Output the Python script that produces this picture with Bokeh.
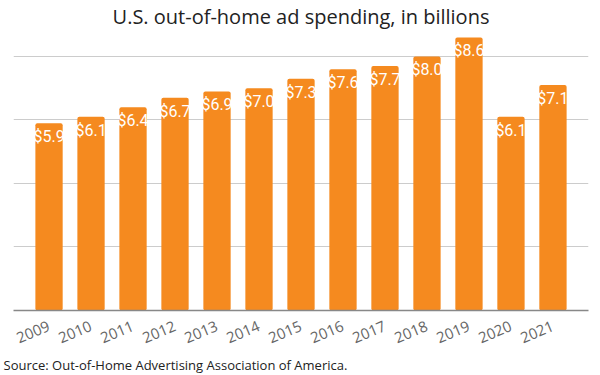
from bokeh.plotting import figure
from bokeh.models import ColumnDataSource, FactorRange, Range1d, FixedTicker, Title
from bokeh.core.properties import value
from bokeh.embed import file_html
from bokeh.resources import INLINE

years = ["2009", "2010", "2011", "2012", "2013", "2014", "2015",
         "2016", "2017", "2018", "2019", "2020", "2021"]
spending = [5.9, 6.1, 6.4, 6.7, 6.9, 7.0, 7.3, 7.6, 7.7, 8.0, 8.6, 6.1, 7.1]
labels = ["$%.1f" % v for v in spending]
grid_ticks = [2, 4, 6, 8]

src = ColumnDataSource(dict(year=years, val=spending, lab=labels))

p = figure(width=600, height=375, output_backend="svg", toolbar_location=None,
           x_range=FactorRange(*years, range_padding=0.346, range_padding_units="absolute"),
           y_range=Range1d(0, 8.85),
           min_border_left=13, min_border_right=12, min_border_top=0, min_border_bottom=60)

p.title.text = "U.S. out-of-home ad spending, in billions"
p.title.align = "center"
p.title.text_font = "Open Sans"
p.title.text_font_size = "20px"
p.title.text_font_style = "normal"
p.title.text_color = "#222222"
p.title.standoff = 0

p.vbar(x="year", top="val", width=0.65, source=src, color="#F58A1F",
       line_color=None, border_radius=2)
p.text(x="year", y="val", text="lab", source=src, text_align="center",
       text_baseline="top", y_offset=4, text_color="white",
       text_font=value("Roboto"), text_font_size="16px")

p.add_layout(Title(text="Source: Out-of-Home Advertising Association of America.",
                   align="left", text_font="Open Sans", text_font_size="13px",
                   text_font_style="normal", text_color="#222222", offset=-10,
                   standoff=4), "below")

p.outline_line_color = None
p.yaxis.visible = False
p.xgrid.grid_line_color = None
p.ygrid.ticker = FixedTicker(ticks=grid_ticks)
p.ygrid.grid_line_color = "#cccccc"
p.ygrid.grid_line_width = 1
p.xaxis.axis_line_color = "#888888"
p.xaxis.axis_line_width = 1.5
p.xaxis.major_tick_line_color = None
p.xaxis.minor_tick_line_color = None
p.xaxis.major_label_orientation = 0.4
p.xaxis.major_label_text_font = "Open Sans"
p.xaxis.major_label_text_font_size = "15px"
p.xaxis.major_label_text_color = "#666666"
p.xaxis.major_label_standoff = 9

open("out.html", "w").write(file_html(p, INLINE))
